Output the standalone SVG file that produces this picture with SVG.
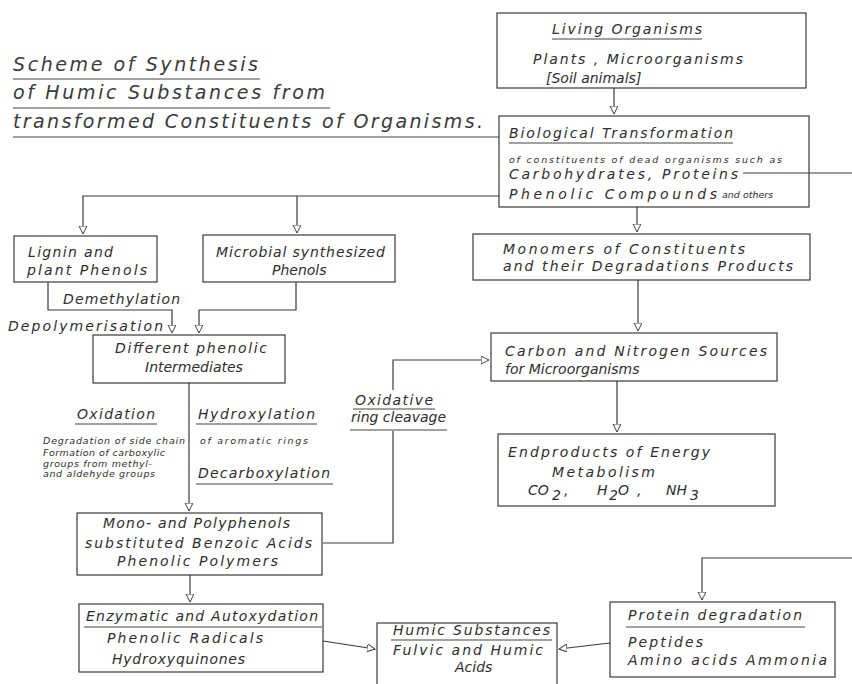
<svg xmlns="http://www.w3.org/2000/svg" width="852" height="684" viewBox="0 0 852 684">
<defs>
<marker id="ah" markerUnits="userSpaceOnUse" markerWidth="10" markerHeight="10" refX="8" refY="4" orient="auto">
<path d="M0,0 L8,4 L0,8 z" fill="#fff" stroke="#444" stroke-width="1"/>
</marker>
<style>
.t{font-family:"DejaVu Sans","Liberation Sans",sans-serif;font-style:italic;font-size:14px;fill:#2e2e2e;}
.s{font-family:"DejaVu Sans","Liberation Sans",sans-serif;font-style:italic;font-size:9.5px;fill:#2e2e2e;}
.h{font-family:"DejaVu Sans","Liberation Sans",sans-serif;font-style:italic;font-size:19px;fill:#3a3a3a;}
.b{fill:#fff;stroke:#3a3a3a;stroke-width:1.2;}
.u{stroke:#444;stroke-width:1.1;}
.c{fill:none;stroke:#3a3a3a;stroke-width:1.2;}
</style>
</defs>
<rect width="852" height="684" fill="#fff"/>

<g id="title">
<text class="h" x="13" y="71" textLength="245" lengthAdjust="spacing">Scheme of Synthesis</text>
<line class="u" x1="13" y1="79" x2="260" y2="79"/>
<text class="h" x="13" y="99" textLength="312" lengthAdjust="spacing">of Humic Substances from</text>
<line class="u" x1="13" y1="108" x2="330" y2="108"/>
<text class="h" x="13" y="128" textLength="470" lengthAdjust="spacing">transformed Constituents of Organisms.</text>
<line class="u" x1="13" y1="137" x2="510" y2="137"/>
</g>

<g id="living">
<rect class="b" x="497" y="13" width="309" height="75"/>
<text class="t" x="552" y="34" textLength="150" lengthAdjust="spacing">Living Organisms</text>
<line class="u" x1="552" y1="39" x2="702" y2="39"/>
<text class="t" x="533" y="64" textLength="210" lengthAdjust="spacing">Plants , Microorganisms</text>
<text class="t" x="546" y="83">[Soil animals]</text>
</g>

<g id="biological">
<rect class="b" x="499" y="116" width="310" height="91"/>
<text class="t" x="509" y="138" textLength="224" lengthAdjust="spacing">Biological Transformation</text>
<line class="u" x1="509" y1="143" x2="733" y2="143"/>
<text class="s" x="509" y="163" textLength="273" lengthAdjust="spacing">of constituents of  dead organisms such as</text>
<text class="t" x="509" y="179" textLength="229" lengthAdjust="spacing">Carbohydrates,   Proteins</text>
<text class="t" x="509" y="199" textLength="208" lengthAdjust="spacing">Phenolic  Compounds</text>
<text class="s" x="722" y="198" font-size="8">and others</text>
</g>

<g id="lignin">
<rect class="b" x="14" y="236" width="143" height="46"/>
<text class="t" x="28" y="257" textLength="85" lengthAdjust="spacing">Lignin and</text>
<text class="t" x="27" y="275" textLength="120" lengthAdjust="spacing">plant Phenols</text>
</g>

<g id="microbial">
<rect class="b" x="203" y="235" width="192" height="47"/>
<text class="t" x="216" y="257" textLength="169" lengthAdjust="spacing">Microbial synthesized</text>
<text class="t" x="272" y="275">Phenols</text>
</g>

<g id="monomers">
<rect class="b" x="473" y="234" width="337" height="46"/>
<text class="t" x="503" y="254" textLength="242" lengthAdjust="spacing">Monomers of  Constituents</text>
<text class="t" x="503" y="271" textLength="290" lengthAdjust="spacing">and their Degradations Products</text>
</g>

<g id="labels-demethylation">
<text class="t" x="63" y="304" textLength="117" lengthAdjust="spacing">Demethylation</text>
<text class="t" x="8" y="331" textLength="155" lengthAdjust="spacing">Depolymerisation</text>
</g>

<g id="phenolic-intermediates">
<rect class="b" x="93" y="335" width="192" height="48"/>
<text class="t" x="115" y="353" textLength="152" lengthAdjust="spacing">Different phenolic</text>
<text class="t" x="145" y="372">Intermediates</text>
</g>

<g id="carbon">
<rect class="b" x="491" y="333" width="286" height="48"/>
<text class="t" x="505" y="356" textLength="262" lengthAdjust="spacing">Carbon and  Nitrogen Sources</text>
<text class="t" x="505" y="374">for Microorganisms</text>
</g>

<g id="reaction-labels">
<text class="t" x="77" y="419" textLength="78" lengthAdjust="spacing">Oxidation</text>
<line class="u" x1="75" y1="424" x2="157" y2="424"/>
<text class="t" x="198" y="419" textLength="117" lengthAdjust="spacing">Hydroxylation</text>
<line class="u" x1="196" y1="424" x2="317" y2="424"/>
<text class="s" x="43" y="444" textLength="142" lengthAdjust="spacing">Degradation of side chain</text>
<text class="s" x="200" y="444" textLength="108" lengthAdjust="spacing">of aromatic rings</text>
<text class="s" x="43" y="456" textLength="122" lengthAdjust="spacing">Formation of carboxylic</text>
<text class="s" x="43" y="467" textLength="109" lengthAdjust="spacing">groups from methyl-</text>
<text class="s" x="43" y="477" textLength="112" lengthAdjust="spacing">and aldehyde groups</text>
<text class="t" x="198" y="478" textLength="132" lengthAdjust="spacing">Decarboxylation</text>
<line class="u" x1="196" y1="484" x2="333" y2="484"/>
<text class="t" x="355" y="405" textLength="78" lengthAdjust="spacing">Oxidative</text>
<line class="u" x1="353" y1="409" x2="435" y2="409"/>
<text class="t" x="351" y="422">ring cleavage</text>
<line class="u" x1="350" y1="430" x2="447" y2="430"/>
</g>

<g id="endproducts">
<rect class="b" x="498" y="434" width="277" height="72"/>
<text class="t" x="508" y="457" textLength="202" lengthAdjust="spacing">Endproducts of Energy</text>
<text class="t" x="552" y="477" textLength="103" lengthAdjust="spacing">Metabolism</text>
<text class="t" x="528" y="495" font-size="15">CO</text>
<text class="t" x="552" y="500" font-size="12">2</text>
<text class="t" x="564" y="495" font-size="15">,</text>
<text class="t" x="597" y="495" font-size="15">H</text>
<text class="t" x="609" y="500" font-size="12">2</text>
<text class="t" x="618" y="495" font-size="15">O</text>
<text class="t" x="637" y="495" font-size="15">,</text>
<text class="t" x="666" y="495" font-size="15">NH</text>
<text class="t" x="690" y="500" font-size="12">3</text>
</g>

<g id="polyphenols">
<rect class="b" x="77" y="513" width="245" height="62"/>
<text class="t" x="103" y="528" textLength="187" lengthAdjust="spacing">Mono- and Polyphenols</text>
<text class="t" x="85" y="548" textLength="227" lengthAdjust="spacing">substituted Benzoic Acids</text>
<text class="t" x="117" y="566" textLength="161" lengthAdjust="spacing">Phenolic Polymers</text>
</g>

<g id="enzymatic">
<rect class="b" x="79" y="604" width="244" height="68"/>
<text class="t" x="86" y="621" textLength="232" lengthAdjust="spacing">Enzymatic and Autoxydation</text>
<line class="u" x1="84" y1="627" x2="322" y2="627"/>
<text class="t" x="107" y="643" textLength="156" lengthAdjust="spacing">Phenolic Radicals</text>
<text class="t" x="112" y="664" textLength="133" lengthAdjust="spacing">Hydroxyquinones</text>
</g>

<g id="humic">
<rect class="b" x="377" y="623" width="180" height="75"/>
<text class="t" x="393" y="635" textLength="157" lengthAdjust="spacing">Humic Substances</text>
<line class="u" x1="391" y1="640" x2="552" y2="640"/>
<text class="t" x="393" y="655" textLength="150" lengthAdjust="spacing">Fulvic and Humic</text>
<text class="t" x="455" y="672">Acids</text>
</g>

<g id="protein">
<rect class="b" x="610" y="602" width="225" height="75"/>
<text class="t" x="628" y="620" textLength="174" lengthAdjust="spacing">Protein degradation</text>
<line class="u" x1="626" y1="627" x2="805" y2="627"/>
<text class="t" x="628" y="647" textLength="75" lengthAdjust="spacing">Peptides</text>
<text class="t" x="628" y="665" textLength="199" lengthAdjust="spacing">Amino acids  Ammonia</text>
</g>

<g id="connectors">
<path class="c" d="M614 88 V114" marker-end="url(#ah)"/>
<path class="c" d="M499 196 H83 V234" marker-end="url(#ah)"/>
<path class="c" d="M297 196 V233" marker-end="url(#ah)"/>
<path class="c" d="M637 207 V232" marker-end="url(#ah)"/>
<path class="c" d="M743 173 H852"/>
<path class="c" d="M48 282 V310 H172 V333" marker-end="url(#ah)"/>
<path class="c" d="M296 282 V310 H199 V333" marker-end="url(#ah)"/>
<path class="c" d="M638 280 V331" stroke-width="2" marker-end="url(#ah)"/>
<path class="c" d="M189 383 V511" marker-end="url(#ah)"/>
<path class="c" d="M393 390 V360 H489" marker-end="url(#ah)"/>
<path class="c" d="M393 431 V543 H323"/>
<path class="c" d="M617 381 V432" marker-end="url(#ah)"/>
<path class="c" d="M190 575 V602" marker-end="url(#ah)"/>
<path class="c" d="M323 641 L375 649" marker-end="url(#ah)"/>
<path class="c" d="M610 643 L559 649" marker-end="url(#ah)"/>
<path class="c" d="M852 558 H702 V600" marker-end="url(#ah)"/>
</g>
</svg>
